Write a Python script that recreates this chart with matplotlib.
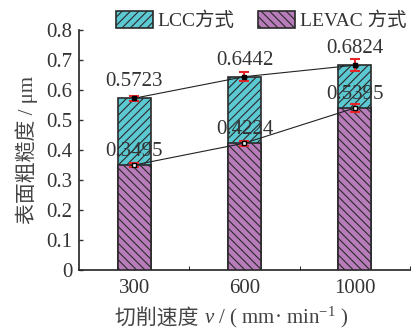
import matplotlib.pyplot as plt
import numpy as np

plt.rcParams['font.family'] = ['Liberation Serif', 'Noto Sans CJK SC']
plt.rcParams['mathtext.fontset'] = 'custom'
plt.rcParams['mathtext.rm'] = 'Liberation Serif'
plt.rcParams['mathtext.it'] = 'Liberation Serif:italic'
plt.rcParams['hatch.linewidth'] = 0.8

speeds = ["300", "600", "1000"]
lcc = [0.5723, 0.6442, 0.6824]
levac = [0.3495, 0.4224, 0.5395]
lcc_err = [0.008, 0.015, 0.02]
levac_err = [0.006, 0.008, 0.012]

teal = "#5cc8d2"
purple = "#b87cba"
edge = "#2a2a2a"
txt = "#333333"
lab = "#444444"

fig = plt.figure(figsize=(4.19, 3.33), dpi=100)
ax = fig.add_axes([0.189, 0.19, 0.789, 0.72])
x = np.arange(len(speeds))
w = 0.3

ax.bar(x, lcc, w, color=teal, edgecolor=edge, hatch="////", lw=1.2, label="LCC方式", zorder=2)
ax.bar(x, levac, w, color=purple, edgecolor=edge, hatch="\\\\\\\\", lw=1.2, label="LEVAC 方式", zorder=3)

ax.plot(x, lcc, color="#222222", lw=0.8, zorder=4)
ax.plot(x, levac, color="#222222", lw=0.8, zorder=4)
ax.errorbar(x, lcc, yerr=lcc_err, fmt="s", ms=3, mfc="black", mec="black",
            ecolor="#e8262a", elinewidth=1.5, capsize=3.5, capthick=1.5, zorder=5)
ax.errorbar(x, levac, yerr=levac_err, fmt="s", ms=3, mfc="white", mec="black",
            ecolor="#e8262a", elinewidth=1.5, capsize=3.5, capthick=1.5, zorder=5)

for xi, v in zip(x, lcc):
    ax.text(xi, v + 0.055, f"{v:.4f}", ha="center", va="center", fontsize=15, color=txt, zorder=6)
for xi, v in zip(x, levac):
    ax.text(xi, v + 0.044, f"{v:.4f}", ha="center", va="center", fontsize=15, color=txt, zorder=6)

ax.set_xlim(-0.5, 2.5)
ax.set_ylim(0, 0.8)
ax.set_xticks(x)
ax.set_xticklabels(speeds)
ax.set_xticks([0.5, 1.5, 2.5], minor=True)
ax.set_yticks(np.arange(0, 0.81, 0.1))
ax.set_yticklabels(["0"] + [f"{v:.1f}" for v in np.arange(0.1, 0.81, 0.1)])
ax.tick_params(axis="both", direction="in", labelsize=15, colors=txt, width=1, length=3)
ax.tick_params(axis="x", which="minor", direction="in", length=3)
ax.tick_params(axis="x", pad=7)
ax.tick_params(axis="y", pad=5)
for s in ["top", "right"]:
    ax.spines[s].set_visible(False)
for s in ["left", "bottom"]:
    ax.spines[s].set_linewidth(1.2)
    ax.spines[s].set_color("#222222")

ax.set_ylabel("表面粗糙度 / μm", fontsize=15, color=lab, labelpad=6)

# x label: Chinese part and math part drawn side by side
t1 = fig.text(0.275, 0.025, "切削速度 ", fontsize=15, color=lab, ha="left", va="baseline")
ax.annotate(r"$v$ / ( mm· min$^{-1}$ )", xy=(1, 0), xycoords=t1, va="bottom", ha="left",
            fontsize=15, color=lab)

ax.legend(loc="center", bbox_to_anchor=(0.55, 1.04), ncol=2, frameon=False,
          fontsize=14, handlelength=1.9, handleheight=1.0, columnspacing=1.2,
          handletextpad=0.25, labelcolor=txt, borderaxespad=0, borderpad=0)

fig.savefig("out.png")
